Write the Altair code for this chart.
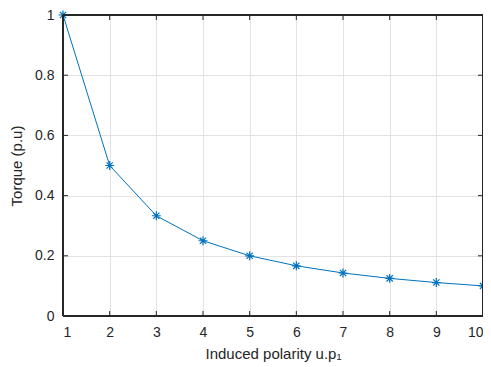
import altair as alt
import pandas as pd

polarity = [1, 2, 3, 4, 5, 6, 7, 8, 9, 10]
torque = [1.0, 0.5, 0.333, 0.25, 0.2, 0.1667, 0.1429, 0.125, 0.1111, 0.1]
x_ticks = [1, 2, 3, 4, 5, 6, 7, 8, 9, 10]
y_ticks = [0, 0.2, 0.4, 0.6, 0.8, 1]

df = pd.DataFrame({"p": polarity, "t": torque})
xt = pd.DataFrame({"v": x_ticks})
yt = pd.DataFrame({"v": y_ticks})

FONT = "Liberation Sans"
TXT = "#262626"
BLUE = "#0072BD"
STAR = "M-1,0L1,0M0,-1L0,1M-0.7,-0.7L0.7,0.7M-0.7,0.7L0.7,-0.7"

xs = alt.Scale(domain=[1, 10], nice=False, zero=False)
ys = alt.Scale(domain=[0, 1], nice=False)

X_AX = alt.Axis(
    values=x_ticks, title="Induced polarity u.p\u2081", grid=True,
    gridColor="#e3e3e3", gridOpacity=1, tickSize=0, domain=False,
    labelColor=TXT, labelFont=FONT, labelFontSize=14, labelPadding=9, titleFont=FONT,
    titleFontSize=15, titleFontWeight="normal", titleColor=TXT, titlePadding=7)
Y_AX = alt.Axis(
    values=y_ticks, title="Torque (p.u)", grid=True, gridColor="#e3e3e3",
    gridOpacity=1, tickSize=0, domain=False,
    labelColor=TXT, labelFont=FONT, labelFontSize=14, labelPadding=9, titleFont=FONT,
    titleFontSize=15, titleFontWeight="normal", titleColor=TXT, titlePadding=10,
    labelExpr="datum.value == 0 ? '0' : datum.value == 1 ? '1' : format(datum.value, '.1f')")

line = alt.Chart(df).mark_line(color=BLUE, strokeWidth=1).encode(
    x=alt.X("p:Q", scale=xs, axis=X_AX),
    y=alt.Y("t:Q", scale=ys, axis=Y_AX),
)

stars = alt.Chart(df).mark_point(shape=STAR, size=80, color=BLUE, filled=False,
                                  strokeWidth=1.2, opacity=1).encode(
    x=alt.X("p:Q", scale=xs, axis=X_AX),
    y=alt.Y("t:Q", scale=ys, axis=Y_AX),
)

frame = alt.Chart(df).mark_rect(filled=False, fillOpacity=0, stroke=TXT,
                                strokeWidth=1).encode(
    x=alt.datum(1, scale=xs, axis=X_AX), x2=alt.datum(10),
    y=alt.datum(0, scale=ys, axis=Y_AX), y2=alt.datum(1),
)


def xtick_layer(yval, off):
    return alt.Chart(xt).mark_tick(orient="vertical", size=5, thickness=1,
                                   color=TXT, opacity=1, yOffset=off).encode(
        x=alt.X("v:Q", scale=xs, axis=X_AX),
        y=alt.datum(yval, scale=ys, axis=Y_AX),
    )


def ytick_layer(xval, off):
    return alt.Chart(yt).mark_tick(orient="horizontal", size=5, thickness=1,
                                   color=TXT, opacity=1, xOffset=off).encode(
        y=alt.Y("v:Q", scale=ys, axis=Y_AX),
        x=alt.datum(xval, scale=xs, axis=X_AX),
    )


chart = alt.layer(
    line, stars, frame,
    xtick_layer(0, -2.5), xtick_layer(1, 2.5),
    ytick_layer(1, 2.5), ytick_layer(10, -2.5),
).properties(
    width=420, height=301,
    autosize=alt.AutoSizeParams(type="none"),
    padding={"left": 55, "top": 7, "right": 0, "bottom": 50},
    background="white",
).configure_view(strokeWidth=0)

chart.save("out.html", embed_options={"renderer": "svg", "actions": False})
